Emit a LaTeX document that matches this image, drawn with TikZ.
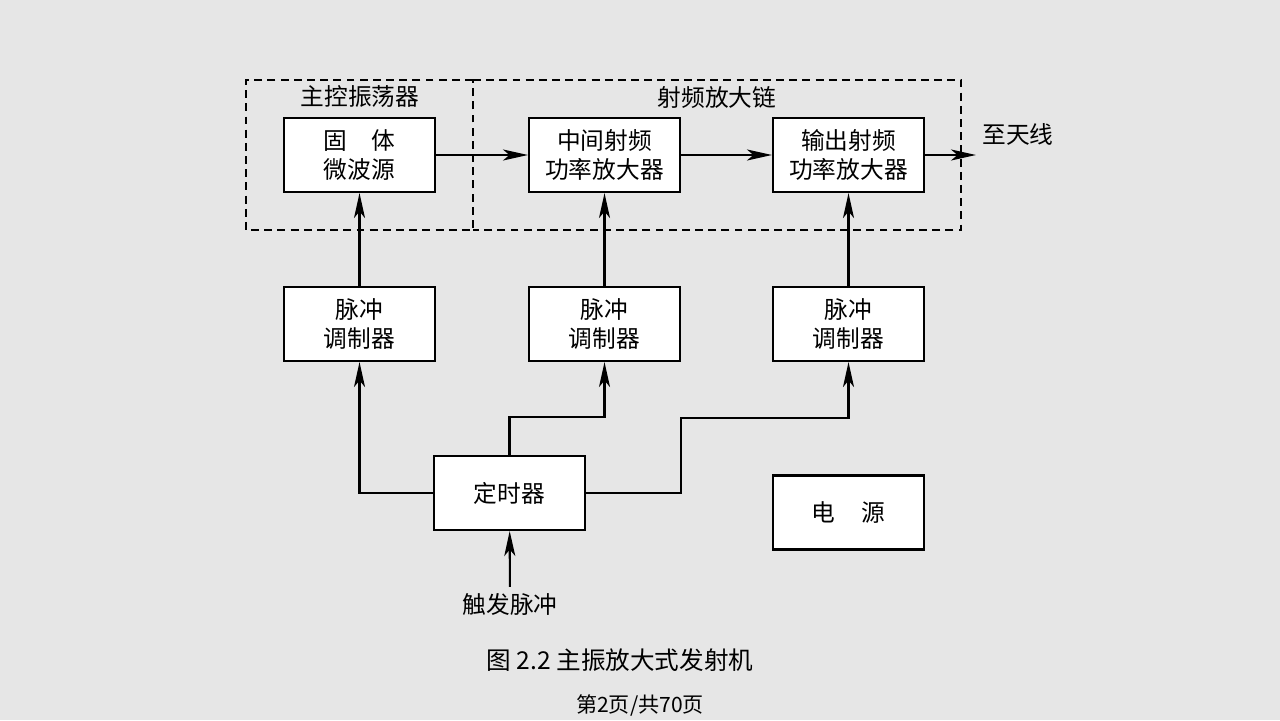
\documentclass[tikz,border=0pt]{standalone}
\usepackage{fontspec}
\setmainfont{Noto Sans CJK SC}
\usepackage{tikz}
\usetikzlibrary{arrows.meta,positioning,calc}
\definecolor{pagebg}{HTML}{E6E6E6}

\begin{document}
\begin{tikzpicture}[
    x=0.02cm, y=-0.02cm,
    box/.style={draw, fill=white, line width=1.2pt, minimum width=3.02cm, minimum height=1.48cm, align=center, font=\fontsize{13.5}{16}\selectfont},
    arrow/.style={-{Stealth[length=5mm, width=2.2mm, inset=1.3mm]}, line width=1.2pt},
    group/.style={draw, dash pattern=on 4.5pt off 3pt, line width=1.1pt},
    label/.style={font=\fontsize{13.5}{16}\selectfont},
]
    \useasboundingbox[fill=pagebg] (0,0) rectangle (1280,720);

    % Dashed groups
    \draw[group] (473,80) -- (246,80) -- (246,230) -- (473,230) -- cycle;
    \draw[group] (473,80) -- (961,80) -- (961,230) -- (473,230);
    \node[label] (grpmo) at (360,97) {主控振荡器};
    \node[label] (grprf) at (717,97) {射频放大链};

    % Transmitter chain
    \node[box] (src) at (359.5,155) {固\hspace{1em}体\\微波源};
    \node[box] (mid) at (604.5,155) {中间射频\\功率放大器};
    \node[box] (out) at (848.5,155) {输出射频\\功率放大器};
    \coordinate (ant) at (976,155);
    \node[label] (antlbl) at (1018,134) {至天线};

    % Modulators
    \node[box] (mod1) at (359.5,324) {脉冲\\调制器};
    \node[box] (mod2) at (604.5,324) {脉冲\\调制器};
    \node[box] (mod3) at (848.5,324) {脉冲\\调制器};

    % Timer and power
    \node[box] (timer) at (509.5,493) {定时器};
    \node[box] (power) at (848.5,512.5) {电\hspace{1.1em}源};
    \node[label] (trig) at (510,604) {触发脉冲};
    \coordinate (bend) at (681,418);

    % Connections
    \draw[arrow] (src) -- (mid);
    \draw[arrow] (mid) -- (out);
    \draw[arrow] (out) -- (ant);
    \draw[arrow] (mod1) -- (src);
    \draw[arrow] (mod2) -- (mid);
    \draw[arrow] (mod3) -- (out);
    \draw[arrow] (timer.west) -| (mod1.south);
    \draw[arrow] (timer.north) -- ++(0,-38) -| (mod2.south);
    \draw[arrow] (timer.east) -| (bend) -| (mod3.south);
    \draw[arrow] (trig) -- (timer);

    % Caption
    \node[font=\fontsize{14}{16}\selectfont] (caption) at (620,660) {图 2.2 主振放大式发射机};
    \node[font=\fontsize{12}{14}\selectfont] (pageno) at (640,705) {第2页/共70页};
\end{tikzpicture}
\end{document}
